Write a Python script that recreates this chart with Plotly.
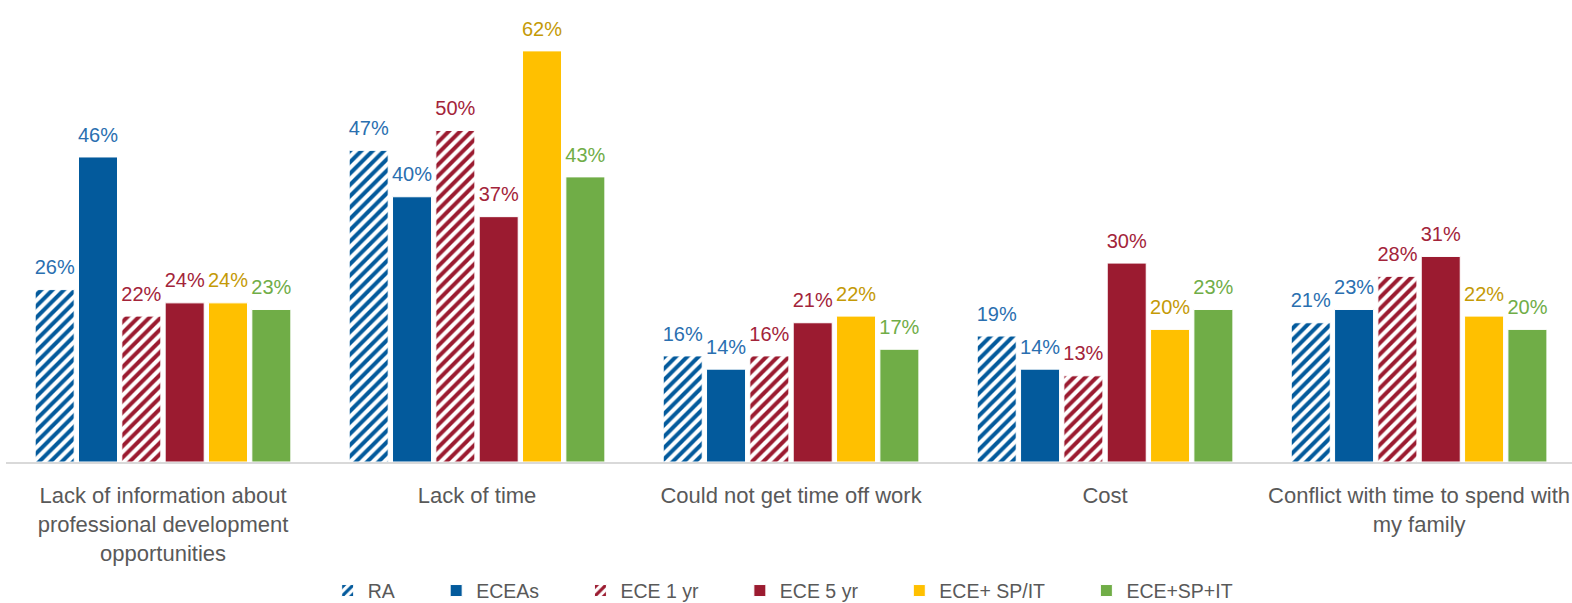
import plotly.graph_objects as go

categories = [
    "Lack of information about<br>professional development<br>opportunities",
    "Lack of time",
    "Could not get time off work",
    "Cost",
    "Conflict with time to spend with<br>my family",
]

series_names = ["RA", "ECEAs", "ECE 1 yr", "ECE 5 yr", "ECE+ SP/IT", "ECE+SP+IT"]
ra = [26, 47, 16, 19, 21]
eceas = [46, 40, 14, 14, 23]
ece_1yr = [22, 50, 16, 13, 28]
ece_5yr = [24, 37, 21, 30, 31]
ece_sp_or_it = [24, 62, 22, 20, 22]
ece_sp_and_it = [23, 43, 17, 23, 20]

series_values = [ra, eceas, ece_1yr, ece_5yr, ece_sp_or_it, ece_sp_and_it]
bar_colors = ["#035A9C", "#035A9C", "#9B1B30", "#9B1B30", "#FFC000", "#70AD47"]
label_colors = ["#2A6FB0", "#2A6FB0", "#A3243A", "#A3243A", "#C49A06", "#70AD47"]
hatched = [True, False, True, False, False, False]

FONT = "Liberation Sans, Arial, sans-serif"
# trailing blank space widens each legend entry
LEGEND_PAD = "\u00a0" * 6 + "\u2009"
GAP = 0.172

fig = go.Figure()
for name, vals, col, lcol, hat in zip(series_names, series_values, bar_colors, label_colors, hatched):
    marker = dict(color=col, line=dict(color="white", width=1))
    if hat:
        marker["pattern"] = dict(shape="/", fgcolor=col, bgcolor="white",
                                 size=8, solidity=0.5, fillmode="replace")
    fig.add_trace(go.Bar(
        name=name + LEGEND_PAD, x=categories, y=vals, marker=marker,
        cliponaxis=False, hoverinfo="x+y",
    ))

# value labels: grouped text points sitting above each bar
for name, vals, lcol in zip(series_names, series_values, label_colors):
    fig.add_trace(go.Scatter(
        x=categories, y=vals, mode="markers+text",
        marker=dict(size=15, opacity=0, color=lcol),
        text=[f"{v}%" for v in vals], textposition="top center",
        textfont=dict(color=lcol, size=20, family=FONT),
        showlegend=False, hoverinfo="skip", cliponaxis=False,
    ))

fig.update_layout(
    width=1572, height=603,
    margin=dict(l=6, r=0, t=31, b=141, autoexpand=False),
    paper_bgcolor="white", plot_bgcolor="white",
    barmode="group", bargap=GAP, bargroupgap=0.1,
    scattermode="group", scattergap=GAP,
    font=dict(family=FONT, color="#595959", size=22),
    showlegend=True,
    legend=dict(orientation="h", x=0.2054, xanchor="left", y=-0.299, yanchor="middle",
                font=dict(size=19.5, color="#595959", family=FONT), itemwidth=30),
    xaxis=dict(showline=True, linecolor="#D9D9D9", linewidth=2, ticks="",
               automargin=False, ticklabelstandoff=13, range=[-0.5, 4.487],
               tickfont=dict(size=22, color="#595959", family=FONT)),
    yaxis=dict(range=[0, 65], visible=False, showgrid=False, zeroline=False),
)

fig.write_html("out.html")
